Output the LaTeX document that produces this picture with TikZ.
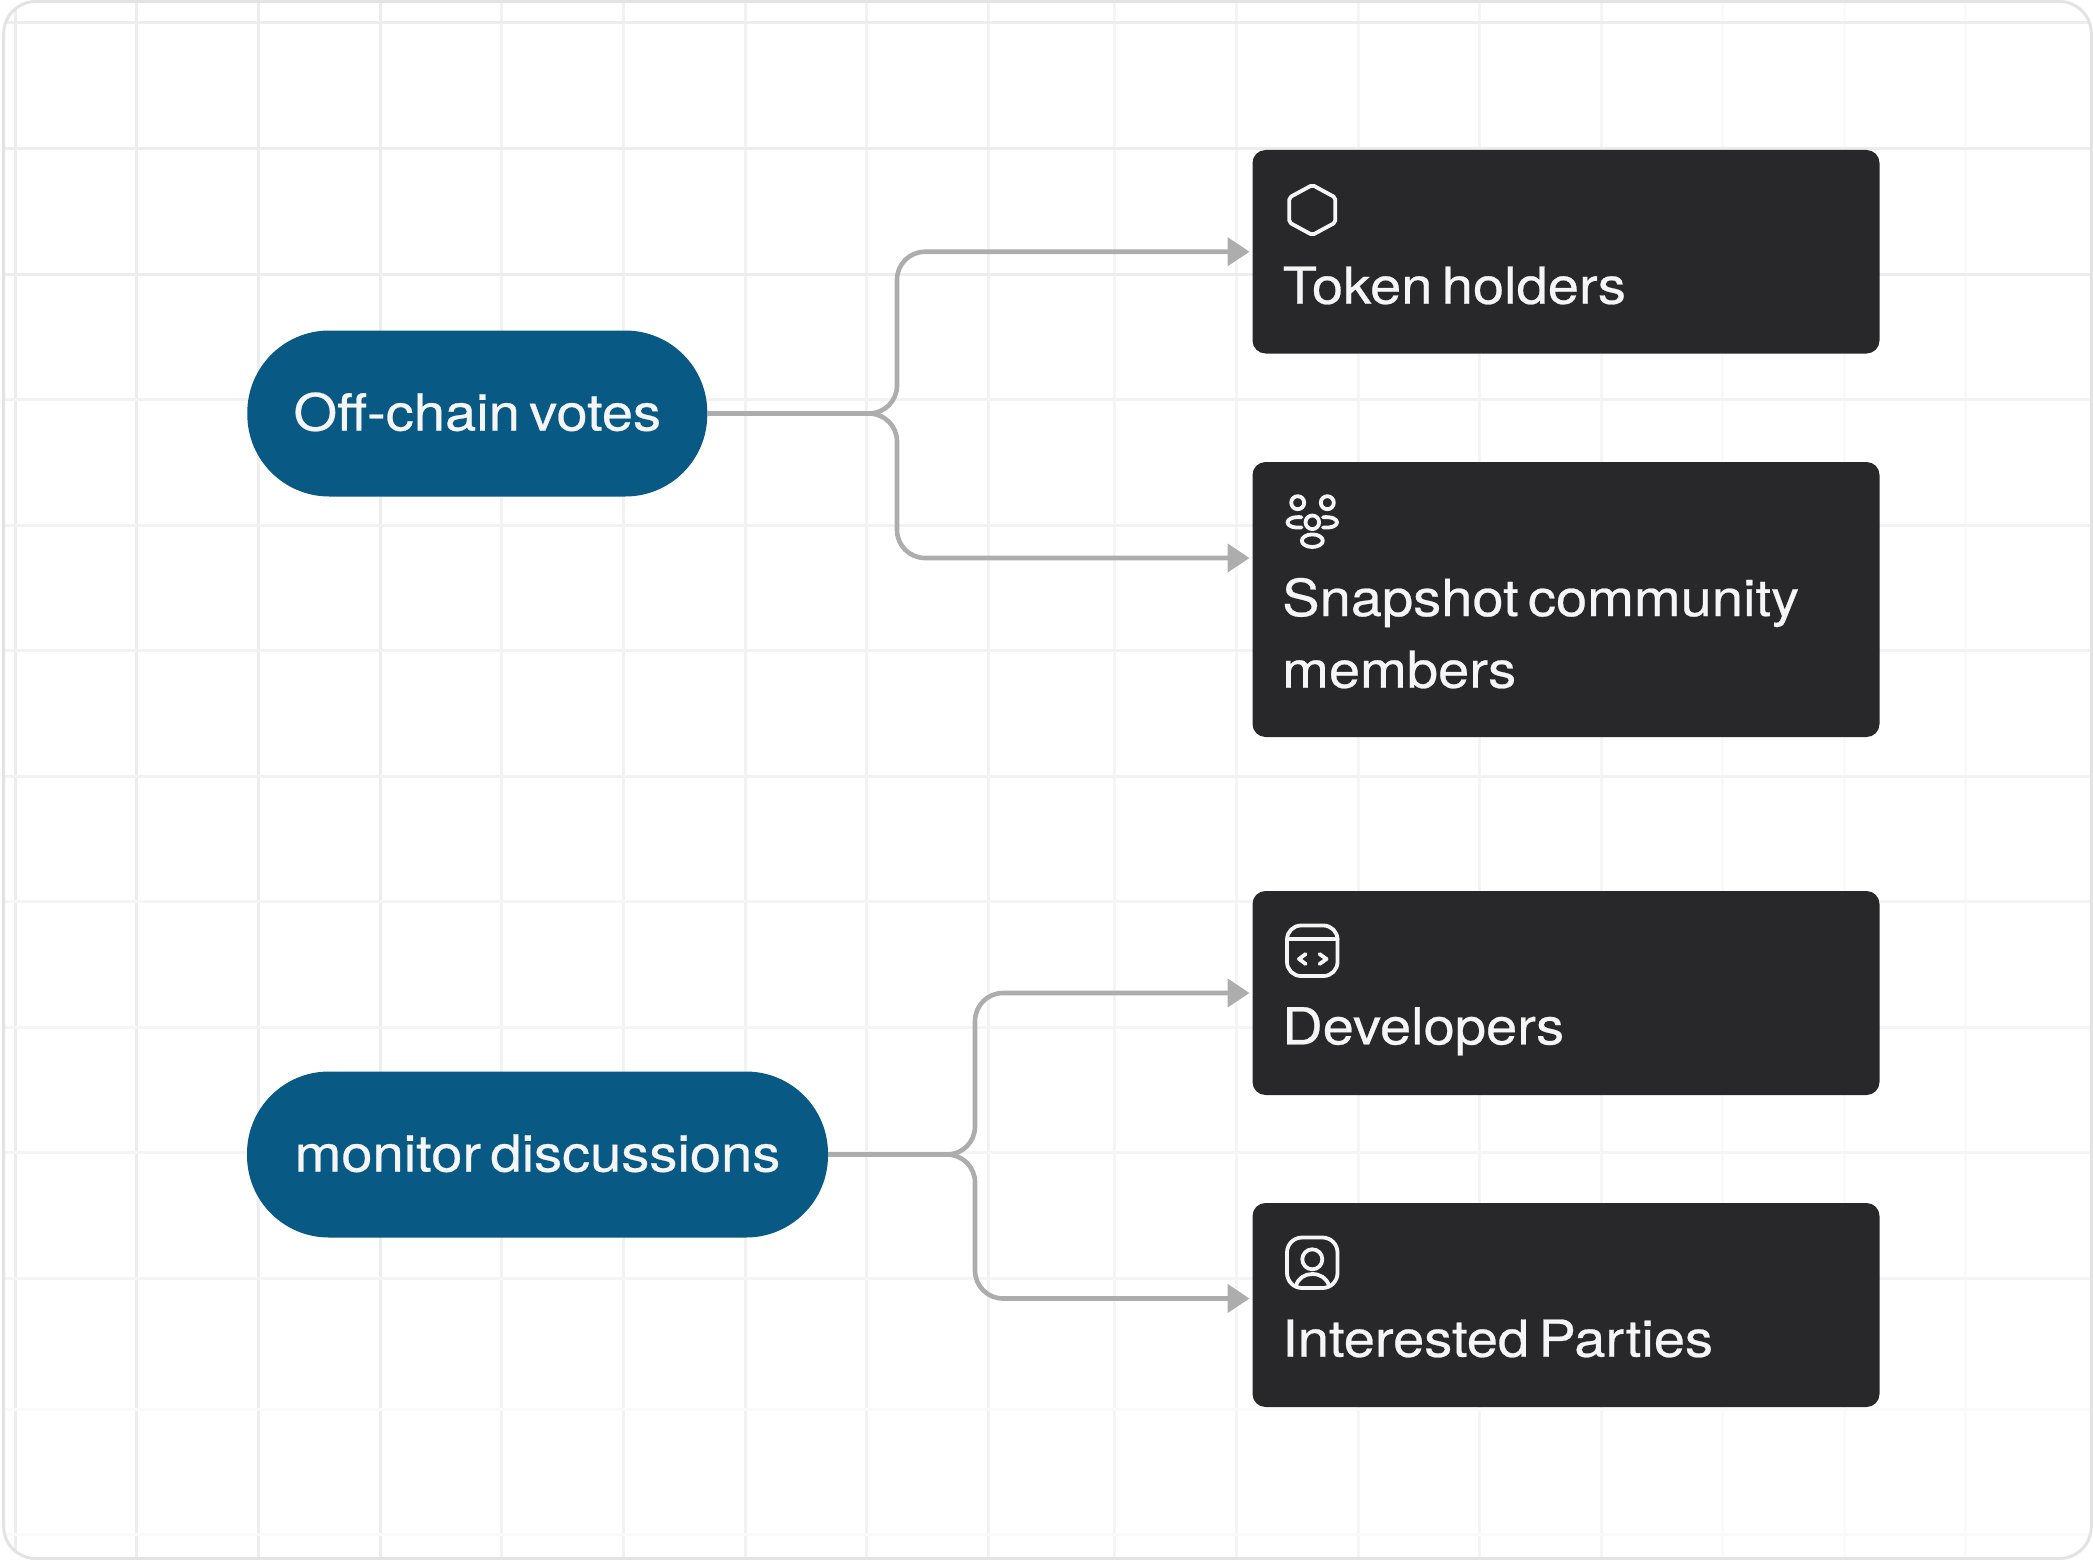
\documentclass[tikz,border=0pt]{standalone}
\usepackage{fontspec}
\setmainfont[FakeStretch=1.1,FakeBold=0.5,WordSpace=0.6]{TeX Gyre Heros}
\usetikzlibrary{arrows.meta}
\definecolor{pillblue}{HTML}{085A85}
\definecolor{boxdark}{HTML}{28282A}
\definecolor{labelwhite}{HTML}{F5F5F5}
\definecolor{linegrey}{HTML}{ADADAD}
\definecolor{framegrey}{HTML}{E3E3E3}
\tikzset{
	gridA/.style={line width=3pt,color=black!7},
	gridB/.style={line width=3pt,color=black!5},
	gridC/.style={line width=3pt,color=black!4},
	gridD/.style={line width=3pt,color=black!2},
	pillnode/.style={fill=pillblue,text=labelwhite,rounded corners=82pt,minimum height=166pt,inner sep=0pt,outer sep=0pt,text height=36pt,text depth=2pt,font=\fontsize{51}{60}\selectfont},
	boxnode/.style={fill=boxdark,rounded corners=13pt,minimum width=627pt,inner sep=0pt,outer sep=0pt},
	boxlabel/.style={text=labelwhite,anchor=base west,inner sep=0pt,font=\fontsize{51}{72}\selectfont},
	flowline/.style={draw=linegrey,line width=4.6pt,rounded corners=28pt,-{Triangle[length=22pt,width=28pt]},shorten >=3pt},
	iconline/.style={draw=labelwhite,line width=3.8pt,line cap=round,line join=round},
}

\begin{document}
\begin{tikzpicture}[x=1pt,y=-1pt]
		\useasboundingbox (0,0) rectangle (2093,1560);
		\fill[white] (0,0) rectangle (2093,1560);
		\begin{scope}
		\clip[rounded corners=32pt] (3.7,1.5) rectangle (2091.3,1558.5);
		% vertical grid
		\draw[gridA] (15,0) -- (15,1560);
		\draw[gridA] (136.7,0) -- (136.7,1560);
		\draw[gridA] (258,0) -- (258,1560);
		\draw[gridA] (380,0) -- (380,1560);
		\draw[gridB] (501.5,0) -- (501.5,1560);
		\draw[gridB] (623.5,0) -- (623.5,1560);
		\draw[gridB] (745,0) -- (745,1560);
		\draw[gridB] (866.5,0) -- (866.5,1560);
		\draw[gridB] (988,0) -- (988,1560);
		\draw[gridC] (1114.5,0) -- (1114.5,1560);
		\draw[gridC] (1236.5,0) -- (1236.5,1560);
		\draw[gridC] (1358,0) -- (1358,1560);
		\draw[gridC] (1479.5,0) -- (1479.5,1560);
		\draw[gridC] (1601,0) -- (1601,1560);
		\draw[gridD] (1722.5,0) -- (1722.5,1560);
		\draw[gridD] (1844,0) -- (1844,1560);
		\draw[gridD] (1965.5,0) -- (1965.5,1560);
		% horizontal grid
		\draw[gridA] (0,23) -- (2093,23);
		\draw[gridA] (0,149) -- (2093,149);
		\draw[gridA] (0,274) -- (2093,274);
		\draw[gridB] (0,399.5) -- (2093,399.5);
		\draw[gridB] (0,525) -- (2093,525);
		\draw[gridB] (0,650) -- (2093,650);
		\draw[gridB] (0,776) -- (2093,776);
		\draw[gridC] (0,901) -- (2093,901);
		\draw[gridC] (0,1027) -- (2093,1027);
		\draw[gridC] (0,1152) -- (2093,1152);
		\draw[gridC] (0,1278) -- (2093,1278);
		\draw[gridD] (0,1409) -- (2093,1409);
		\draw[gridD] (0,1534.5) -- (2093,1534.5);
		\end{scope}
		\draw[framegrey,line width=3pt,rounded corners=32pt] (3.7,1.5) rectangle (2091.3,1558.5);

		\node[pillnode,minimum width=460pt] (offchain) at (477.3,413.5) {Off-chain votes};
		\node[pillnode,minimum width=581pt] (monitor) at (537.5,1154.5) {monitor discussions};

		\node[boxnode,minimum height=203.5pt] (tokenbox) at (1566,251.75) {};
		\node[boxnode,minimum height=275pt] (snapshotbox) at (1566,599.5) {};
		\node[boxnode,minimum height=204pt] (devbox) at (1566,993) {};
		\node[boxnode,minimum height=204pt] (partiesbox) at (1566,1305) {};

		\node[boxlabel] (tokenlabel) at (1282.5,303.7) {Token holders};
		\node[boxlabel] (snapshotlabel) at (1282,616) {Snapshot community};
		\node[boxlabel] (memberslabel) at (1282,687.7) {members};
		\node[boxlabel] (devlabel) at (1282,1044.3) {Developers};
		\node[boxlabel] (partieslabel) at (1282,1356.7) {Interested Parties};

		\coordinate (offchainbus) at (897,413.5);
		\coordinate (monitorbus) at (975,1154.5);
		\coordinate (snapshotin) at (1252.5,558);
		\coordinate (partiesin) at (1252.5,1298.5);
		\draw[flowline] (offchain.east) -- (offchainbus) |- (tokenbox.west);
		\draw[flowline] (offchain.east) -- (offchainbus) |- (snapshotin);
		\draw[flowline] (monitor.east) -- (monitorbus) |- (devbox.west);
		\draw[flowline] (monitor.east) -- (monitorbus) |- (partiesin);

		% hexagon
		\draw[iconline,rounded corners=2pt] (1312.3,185) -- (1335.3,197.5) -- (1335.3,222.5) -- (1312.3,235) -- (1289.3,222.5) -- (1289.3,197.5) -- cycle;
		% group
		\draw[iconline] (1297.7,502.7) circle (6.5);
		\draw[iconline] (1327.3,502.7) circle (6.5);
		\draw[iconline] (1312.3,522.3) circle (6.8);
		\draw[iconline] (1301.5,517.2) .. controls (1292,516.5) and (1287.5,519.5) .. (1287.5,522.3) .. controls (1287.5,525.5) and (1292,528.2) .. (1301.5,527.4);
		\draw[iconline] (1323,517.2) .. controls (1332.5,516.5) and (1337,519.5) .. (1337,522.3) .. controls (1337,525.5) and (1332.5,528.2) .. (1323,527.4);
		\draw[iconline] (1312.3,540.7) ellipse (10.5 and 6.3);
		% window
		\draw[iconline,rounded corners=14pt] (1287,925.5) rectangle (1337.5,976);
		\draw[iconline] (1287,939.3) -- (1337.5,939.3);
		\draw[iconline] (1305.7,954) -- (1299,959) -- (1305.7,964);
		\draw[iconline] (1319.5,954) -- (1326.5,959) -- (1319.5,964);
		% person
		\draw[iconline,rounded corners=15pt] (1287,1237.5) rectangle (1337.5,1288);
		\draw[iconline] (1312.3,1259.3) circle (10);
		\draw[iconline] (1296,1286) .. controls (1298,1278) and (1305,1274) .. (1312.3,1274) .. controls (1320,1274) and (1327,1278) .. (1329,1286);
\end{tikzpicture}
\end{document}
